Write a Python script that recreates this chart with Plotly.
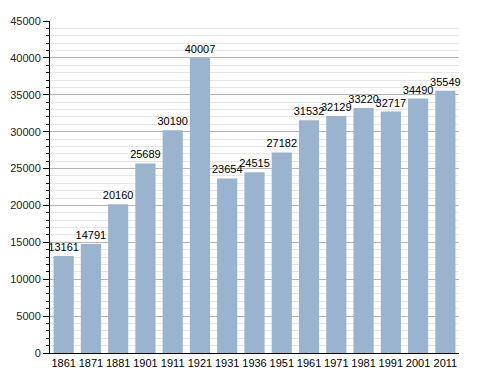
import plotly.graph_objects as go

years = ["1861", "1871", "1881", "1901", "1911", "1921", "1931", "1936", "1951",
         "1961", "1971", "1981", "1991", "2001", "2011"]
population = [13161, 14791, 20160, 25689, 30190, 40007, 23654, 24515, 27182,
              31532, 32129, 33220, 32717, 34490, 35549]
y_ticks = [0, 5000, 10000, 15000, 20000, 25000, 30000, 35000, 40000, 45000]

fig = go.Figure(go.Bar(
    x=years, y=population,
    marker=dict(color="#9ab3cf", line=dict(width=0)),
    text=[str(v) for v in population],
    textposition="outside",
    constraintext="none",
    textfont=dict(family="Liberation Sans, Arial, sans-serif", size=11, color="#000000"),
    outsidetextfont=dict(family="Liberation Sans, Arial, sans-serif", size=11, color="#000000"),
    cliponaxis=False,
    width=0.74,
))

# page body has an 8px default margin; margins compensate for it
fig.update_layout(
    width=488, height=373,
    margin=dict(l=42, r=37, t=13, b=28, autoexpand=False),
    paper_bgcolor="white", plot_bgcolor="white",
    showlegend=False,
    font=dict(family="Liberation Sans, Arial, sans-serif", size=11, color="#222222"),
    bargap=0.26,
)
fig.update_xaxes(
    type="category", automargin=False,
    showline=True, linecolor="#000000", linewidth=1,
    ticks="", showgrid=False,
    tickfont=dict(size=11, color="#000000"),
)
fig.update_yaxes(
    range=[0, 45000], automargin=False,
    tickvals=y_ticks,
    ticktext=[str(v) for v in y_ticks],
    showline=True, linecolor="#000000", linewidth=1,
    ticks="outside", ticklen=6, tickcolor="#000000",
    showgrid=True, gridcolor="#b4b4b4", gridwidth=1,
    zeroline=False,
    tickfont=dict(size=11, color="#222222"),
    minor=dict(dtick=1000, tick0=0, ticks="outside", ticklen=3, tickcolor="#000000",
               showgrid=True, gridcolor="#e6e6e6", gridwidth=1),
)

fig.write_html("out.html")
